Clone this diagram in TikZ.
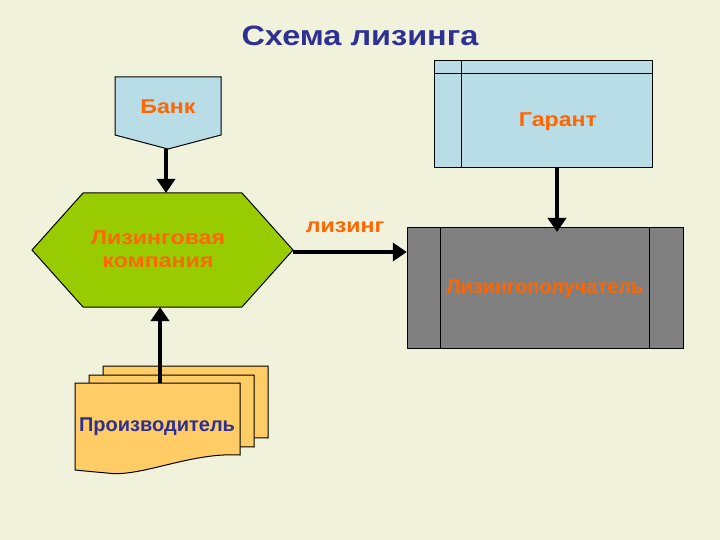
\documentclass[tikz,border=0pt]{standalone}
\usepackage{fontspec}
\setmainfont{Liberation Sans}
\newfontfamily\widefont[FakeStretch=1.16]{Liberation Sans}
\usetikzlibrary{arrows.meta}
\definecolor{bg}{HTML}{F0F2DC}
\definecolor{lblue}{HTML}{B9DDE6}
\definecolor{lgreen}{HTML}{99CC00}
\definecolor{dgray}{HTML}{808080}
\definecolor{docfill}{HTML}{FFCC66}
\definecolor{orangetxt}{HTML}{FF6600}
\definecolor{bluetxt}{HTML}{2E3192}
\begin{document}
\begin{tikzpicture}[x=1pt,y=-1pt,
  outline/.style={draw=black, line width=1pt},
  lbl/.style={font=\bfseries\fontsize{20}{23}\selectfont, text=orangetxt, align=center, inner sep=0pt},
  widelbl/.style={lbl, font=\widefont\bfseries\fontsize{20}{23}\selectfont},
  frame/.style={inner sep=0pt, draw=none},
  arr/.style={line width=4.5pt, -{Triangle[length=14pt,width=18pt]}}]
\fill[bg] (0,0) rectangle (720,540);
\useasboundingbox (0,0) rectangle (720,540);

% title
\node[font=\widefont\bfseries\fontsize{28}{32}\selectfont, text=bluetxt] (title) at (360,36) {Схема лизинга};

% bank (off-page connector)
\node[frame, minimum width=106pt, minimum height=72pt] (bank) at (168,113) {};
\path[outline, fill=lblue] (115,77) -- (221,77) -- (221,135) -- (168,149) -- (115,135) -- cycle;
\node[widelbl] (bankT) at (168,107) {Банк};

% leasing company (hexagon)
\node[frame, minimum width=261pt, minimum height=114pt] (hex) at (162.5,250) {};
\path[outline, fill=lgreen] (32,250) -- (83,193) -- (242,193) -- (293,250) -- (242,307) -- (83,307) -- cycle;
\node[widelbl] (hexT) at (158,249) {Лизинговая\\компания};

% guarantor (internal storage)
\node[frame, minimum width=218pt, minimum height=107pt] (garant) at (543,114) {};
\path[outline, fill=lblue] (434,61) rectangle (652,168);
\draw[outline] (434,73.5) -- (652,73.5);
\draw[outline] (461,61) -- (461,168);
\node[widelbl] (garantT) at (558,122) {Гарант};

% lessee (predefined process)
\node[frame, minimum width=276pt, minimum height=120pt] (lessee) at (545,288) {};
\path[outline, fill=dgray] (407,228) rectangle (683,348);
\draw[outline] (440.5,228) -- (440.5,348);
\draw[outline] (649,228) -- (649,348);
\node[lbl] (lesseeT) at (545,289) {Лизингополучатель};

% producer (multi-document)
\foreach \dx/\dy in {28/-17, 14/-8} {
  \path[outline, fill=docfill, shift={(\dx,\dy)}] (75,383) -- (240,383) -- (240,455)
    .. controls (190,452) and (140,478) .. (107,473) .. controls (95,472) and (85,471) .. (75,470) -- cycle;
}
\node[frame, minimum width=165pt, minimum height=90pt] (prod) at (157.5,428) {};
\path[outline, fill=docfill] (75,383) -- (240,383) -- (240,455)
    .. controls (190,452) and (140,478) .. (107,473) .. controls (95,472) and (85,471) .. (75,470) -- cycle;
\node[lbl, text=bluetxt] (prodT) at (157,427) {Производитель};

% connectors
\draw[arr] (166,149) -- (166,193);
\draw[arr] (prod.north -| 160,0) -- (160,307);
\draw[arr] (293,252) -- (lessee.west |- 0,252);
\node[widelbl] (leasT) at (345,227) {лизинг};
\draw[arr] (557,168) -- (557,232);
\end{tikzpicture}
\end{document}
